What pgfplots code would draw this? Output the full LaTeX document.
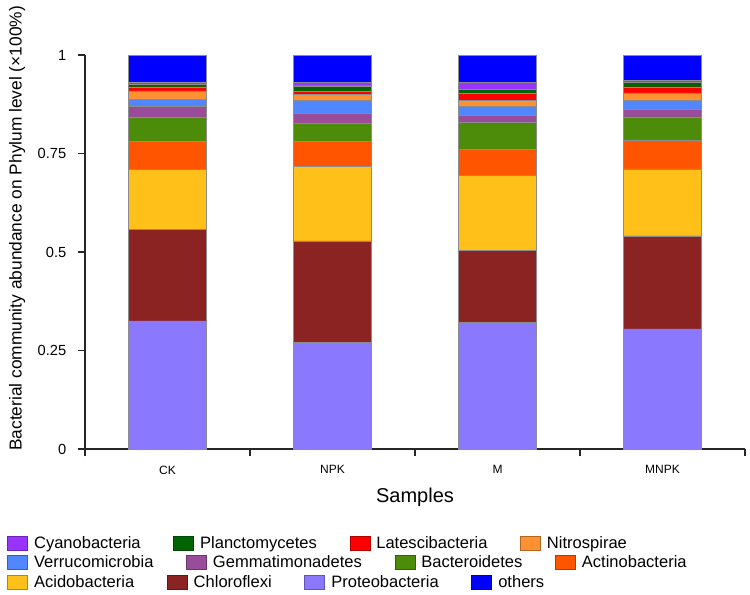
\documentclass[border=0pt]{standalone}
\usepackage{fontspec}
\setmainfont{Liberation Sans}
\usepackage{pgfplots}
\usepackage{pgfplotstable}
\pgfplotsset{compat=1.18}

\definecolor{cyanoC}{RGB}{153,51,255}
\definecolor{planctoC}{RGB}{0,100,0}
\definecolor{latesciC}{RGB}{255,0,0}
\definecolor{nitroC}{RGB}{255,145,50}
\definecolor{verrucoC}{RGB}{80,135,255}
\definecolor{gemmaC}{RGB}{153,76,153}
\definecolor{bacterC}{RGB}{76,140,10}
\definecolor{actinoC}{RGB}{255,85,0}
\definecolor{acidoC}{RGB}{255,192,25}
\definecolor{chloroC}{RGB}{140,35,35}
\definecolor{proteoC}{RGB}{138,120,255}
\definecolor{othersC}{RGB}{0,0,255}

% relative abundance per sample, bottom to top of each bar
\pgfplotstableread{
x Proteo Chloro Acido Actino Bacter Gemma Verruco Nitro Latesci Plancto Cyano others
0 0.325 0.232 0.153 0.071 0.060 0.028 0.018 0.022 0.010 0.006 0.007 0.068
1 0.270 0.258 0.190 0.063 0.045 0.026 0.033 0.015 0.008 0.014 0.009 0.069
2 0.322 0.183 0.190 0.066 0.069 0.017 0.022 0.016 0.017 0.011 0.017 0.070
3 0.305 0.236 0.170 0.073 0.059 0.020 0.022 0.019 0.015 0.011 0.006 0.064
}\abund

\pgfplotsset{
  rowlegend/.style={
    hide axis, scale only axis, width=1pt, height=1pt,
    xmin=0, xmax=1, ymin=0, ymax=1, anchor=south west,
    legend columns=-1,
    legend style={at={(0,0.5)}, anchor=west, draw=none, fill=none,
      inner sep=0pt, font=\fontsize{12.4}{14}\selectfont,
      nodes={inner sep=3pt},
      /tikz/every odd column/.append style={column sep=1.5pt},
      /tikz/every even column/.append style={column sep=21.5pt}},
    legend image code/.code={\draw[##1, line width=0.6pt] (0pt,-5.3pt) rectangle (15pt,5.3pt);},
  },
}

\begin{document}
\begin{tikzpicture}
\useasboundingbox (0,0) rectangle (562.5pt,445.5pt);
\begin{axis}[
    at={(63.75pt,108.75pt)}, anchor=south west,
    scale only axis, width=495pt, height=295.5pt,
    ybar stacked, bar width=0.473,
    xmin=-0.5, xmax=3.5, ymin=0, ymax=1,
    axis lines=left,
    axis line style={-, line width=0.8pt, black!85},
    tick align=outside, major tick length=5.5pt,
    tick style={line width=0.8pt, black!85},
    xtick={-0.5,0.5,1.5,2.5,3.5}, xticklabels={,,,,},
    extra x ticks={0,1,2,3}, extra x tick labels={CK,NPK,M,MNPK},
    extra x tick style={major tick length=0pt,
      tick label style={font=\fontsize{9}{11}\selectfont, yshift=-9pt}},
    ytick={0,0.25,0.5,0.75,1}, yticklabels={0,0.25,0.5,0.75,1},
    yticklabel style={font=\fontsize{11}{13}\selectfont, xshift=-5pt},
    ylabel={Bacterial community abundance on Phylum level (×100\%)},
    ylabel style={at={(axis description cs:-0.103,0.56)}, anchor=center,
      font=\fontsize{13}{15}\selectfont},
    xlabel={Samples},
    xlabel style={at={(axis description cs:0.5,0)}, anchor=center,
      yshift=-36pt, font=\fontsize{15}{17}\selectfont},
    every axis plot/.append style={draw=black!45, line width=0.25pt},
]
\addplot[fill=proteoC] table[x=x,y=Proteo]{\abund};
\addplot[fill=chloroC] table[x=x,y=Chloro]{\abund};
\addplot[fill=acidoC] table[x=x,y=Acido]{\abund};
\addplot[fill=actinoC] table[x=x,y=Actino]{\abund};
\addplot[fill=bacterC] table[x=x,y=Bacter]{\abund};
\addplot[fill=gemmaC] table[x=x,y=Gemma]{\abund};
\addplot[fill=verrucoC] table[x=x,y=Verruco]{\abund};
\addplot[fill=nitroC] table[x=x,y=Nitro]{\abund};
\addplot[fill=latesciC] table[x=x,y=Latesci]{\abund};
\addplot[fill=planctoC] table[x=x,y=Plancto]{\abund};
\addplot[fill=cyanoC] table[x=x,y=Cyano]{\abund};
\addplot[fill=othersC] table[x=x,y=others]{\abund};
\end{axis}

\begin{axis}[rowlegend, at={(5.25pt,37.5pt)}]
\addlegendimage{fill=cyanoC, draw=cyanoC!70!black}\addlegendentry{Cyanobacteria}
\addlegendimage{fill=planctoC, draw=planctoC!70!black}\addlegendentry{Planctomycetes}
\addlegendimage{fill=latesciC, draw=latesciC!70!black}\addlegendentry{Latescibacteria}
\addlegendimage{fill=nitroC, draw=nitroC!70!black}\addlegendentry{Nitrospirae}
\end{axis}
\begin{axis}[rowlegend, at={(5.25pt,23.25pt)}]
\addlegendimage{fill=verrucoC, draw=verrucoC!70!black}\addlegendentry{Verrucomicrobia}
\addlegendimage{fill=gemmaC, draw=gemmaC!70!black}\addlegendentry{Gemmatimonadetes}
\addlegendimage{fill=bacterC, draw=bacterC!70!black}\addlegendentry{Bacteroidetes}
\addlegendimage{fill=actinoC, draw=actinoC!70!black}\addlegendentry{Actinobacteria}
\end{axis}
\begin{axis}[rowlegend, at={(5.25pt,8.25pt)}]
\addlegendimage{fill=acidoC, draw=acidoC!70!black}\addlegendentry{Acidobacteria}
\addlegendimage{fill=chloroC, draw=chloroC!70!black}\addlegendentry{Chloroflexi}
\addlegendimage{fill=proteoC, draw=proteoC!70!black}\addlegendentry{Proteobacteria}
\addlegendimage{fill=othersC, draw=othersC!70!black}\addlegendentry{others}
\end{axis}
\end{tikzpicture}
\end{document}
